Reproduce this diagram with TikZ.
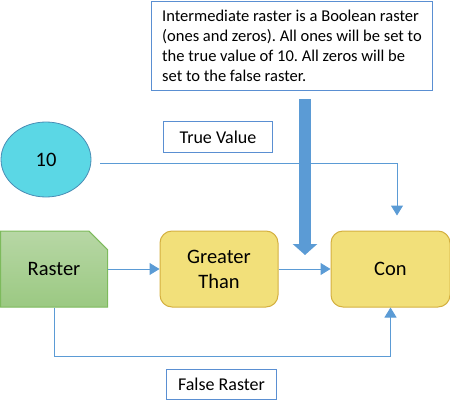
\documentclass[tikz,border=0pt]{standalone}
\usepackage{fontspec}
\setmainfont{Carlito}
\usetikzlibrary{arrows.meta,shapes.geometric,shapes.misc}
\definecolor{lineblue}{HTML}{5B9BD5}
\definecolor{boxblue}{HTML}{5A8FD2}
\definecolor{cyanfill}{HTML}{5BD7E5}
\definecolor{cyanborder}{HTML}{4A8DB5}
\definecolor{yelfill}{HTML}{F2E07A}
\definecolor{yelborder}{HTML}{D4B040}
\definecolor{greentop}{HTML}{B7D7A5}
\definecolor{greenbot}{HTML}{9BC982}
\definecolor{greenborder}{HTML}{7DBA5C}
\tikzset{
  shapetext/.style={font=\fontsize{20.5}{25}\selectfont, align=center},
  procbox/.style={shapetext, draw=yelborder, fill=yelfill, line width=1pt, rounded corners=12pt, minimum width=118pt, minimum height=76pt, inner sep=0pt},
  labelbox/.style={draw=boxblue, line width=1pt, font=\fontsize{18}{22}\selectfont, inner sep=0pt},
  conn/.style={draw=lineblue, line width=1pt, -{Triangle[width=12pt,length=10pt]}},
  bigarrow/.style={draw=lineblue, line width=12pt, -{Triangle[width=24pt,length=11pt]}}
}
\begin{document}
\frenchspacing
\begin{tikzpicture}[x=1pt,y=-1pt]
\useasboundingbox (0,0) rectangle (450,407);
% note
\node[draw=boxblue, line width=1pt, minimum width=281pt, minimum height=89pt, inner sep=0pt,
      font=\fontsize{16.5}{20}\selectfont, align=left] (note) at (292,46)
  {Intermediate raster is a Boolean raster\\(ones and zeros). All ones will be set to\\the true value of 10. All zeros will be\\set to the false raster.};
% ellipse
\node[ellipse, draw=cyanborder, fill=cyanfill, line width=0.8pt, minimum width=90pt, minimum height=75pt, inner sep=0pt, shapetext] (ten) at (46,159.5) {10};
% raster
\node[chamfered rectangle, chamfered rectangle corners=north east, chamfered rectangle xsep=12pt, chamfered rectangle ysep=12pt,
      draw=greenborder, top color=greentop, bottom color=greenbot, line width=1pt, minimum width=107pt, minimum height=76pt, inner sep=0pt, shapetext] (raster) at (54,269) {Raster};
% process boxes
\node[procbox] (gt) at (219,269) {Greater\\Than};
\node[procbox, minimum width=119pt] (con) at (390.5,269) {Con};
% labels
\node[labelbox, minimum width=109pt, minimum height=31pt] (tv) at (218,137) {True Value};
\node[labelbox, minimum width=110pt, minimum height=30pt] (fr) at (221.5,384.5) {False Raster};
% connectors
\draw[conn, shorten <=9pt, shorten >=15pt] ([yshift=-3.5pt]ten.east) -| ([xshift=6.5pt]con.north);
\draw[conn] (raster.east) -- (gt.west);
\draw[conn] (gt.east) -- (con.west);
\draw[conn] (raster.south) -- ++(0,49) -| (con.south);
% big arrow
\coordinate (bigstart) at (305,99);
\coordinate (bigend) at (305,255);
\draw[bigarrow] (bigstart) -- (bigend);
\end{tikzpicture}
\end{document}
